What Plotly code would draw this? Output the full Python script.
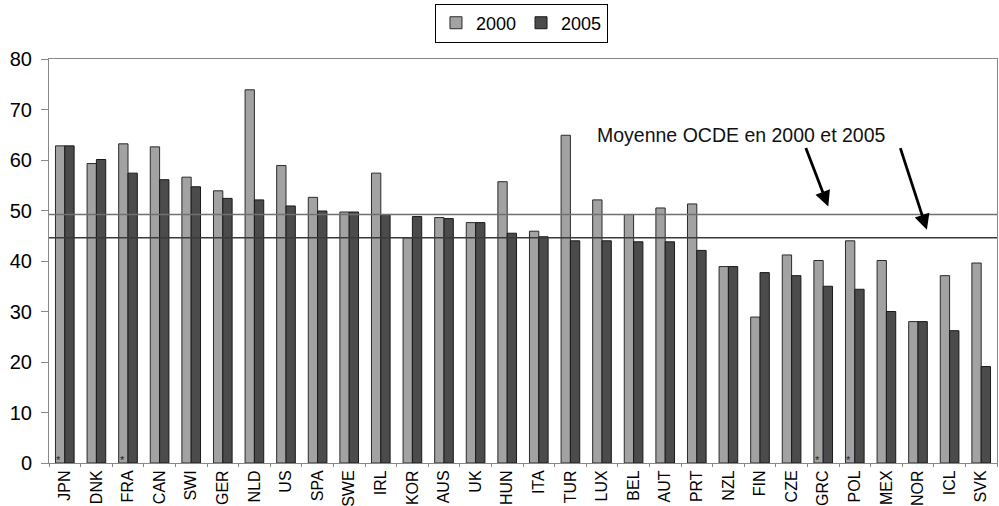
import plotly.graph_objects as go

countries = ["JPN", "DNK", "FRA", "CAN", "SWI", "GER", "NLD", "US", "SPA", "SWE",
             "IRL", "KOR", "AUS", "UK", "HUN", "ITA", "TUR", "LUX", "BEL", "AUT",
             "PRT", "NZL", "FIN", "CZE", "GRC", "POL", "MEX", "NOR", "ICL", "SVK"]
values_2000 = [62.8, 59.3, 63.2, 62.6, 56.6, 53.9, 73.9, 58.9, 52.6, 49.7,
               57.4, 44.6, 48.6, 47.6, 55.7, 45.9, 64.9, 52.1, 49.2, 50.5,
               51.3, 38.9, 28.9, 41.2, 40.1, 44.0, 40.1, 28.0, 37.1, 39.6]
values_2005 = [62.8, 60.1, 57.4, 56.1, 54.7, 52.4, 52.1, 50.9, 49.9, 49.7,
               49.2, 48.8, 48.4, 47.6, 45.5, 44.8, 44.0, 44.0, 43.8, 43.8,
               42.1, 38.9, 37.7, 37.1, 35.0, 34.4, 30.0, 28.0, 26.2, 19.1]
starred = ["JPN", "FRA", "GRC", "POL"]
oecd_mean_2000 = 49.2
oecd_mean_2005 = 44.6
y_ticks = [0, 10, 20, 30, 40, 50, 60, 70, 80]

FONT = "Arial, Liberation Sans, sans-serif"

fig = go.Figure()
fig.add_trace(go.Bar(name="2000", x=countries, y=values_2000,
                     marker=dict(color="#a2a2a2", line=dict(color="#2a2a2a", width=1))))
fig.add_trace(go.Bar(name="2005", x=countries, y=values_2005,
                     marker=dict(color="#4b4b4b", line=dict(color="#1a1a1a", width=1))))

# OECD average lines
fig.add_hline(y=oecd_mean_2000, line=dict(color="#707070", width=1.5), layer="above")
fig.add_hline(y=oecd_mean_2005, line=dict(color="#3a3a3a", width=1.5), layer="above")

annotations = [
    dict(text="Moyenne OCDE en 2000 et 2005", xref="paper", yref="y",
         x=0.576, y=65.0, xanchor="left", yanchor="middle", showarrow=False,
         font=dict(family=FONT, size=19.5, color="#111111")),
    dict(text="", xref="paper", yref="y", x=0.822, y=50.8,
         ax=-23, ay=-60, showarrow=True, arrowhead=2, arrowsize=1.1,
         arrowwidth=2.8, arrowcolor="#000000"),
    dict(text="", xref="paper", yref="y", x=0.926, y=46.2,
         ax=-27, ay=-83, showarrow=True, arrowhead=2, arrowsize=1.1,
         arrowwidth=2.8, arrowcolor="#000000"),
]
for c in starred:
    annotations.append(dict(text="*", xref="x", yref="y", x=c, y=0,
                            xshift=-6, yshift=3, yanchor="middle",
                            showarrow=False,
                            font=dict(family=FONT, size=11, color="#222222")))

fig.update_layout(
    width=999, height=506,
    margin=dict(l=49, r=2, t=59, b=43, autoexpand=False),
    paper_bgcolor="white", plot_bgcolor="white",
    font=dict(family=FONT, size=19, color="#000000"),
    barmode="group", bargap=0.41, bargroupgap=0,
    showlegend=True,
    legend=dict(orientation="h", x=0.522, xref="container", xanchor="center",
                y=0.993, yref="container", yanchor="top",
                bordercolor="#000000", borderwidth=1,
                font=dict(family=FONT, size=18), traceorder="normal",
                tracegroupgap=0, itemwidth=30),
    annotations=annotations,
)
fig.update_xaxes(type="category", tickangle=-90, showline=True, linecolor="#888888",
                 mirror=True, ticks="outside", tickson="boundaries", ticklen=3,
                 tickcolor="#888888", showgrid=False, automargin=False,
                 ticklabelstandoff=0,
                 tickfont=dict(family=FONT, size=16))
fig.update_yaxes(range=[0, 80], tickvals=y_ticks, showline=True, linecolor="#888888",
                 mirror=True, ticks="outside", ticklen=7, tickcolor="#888888",
                 showgrid=False, zeroline=False, automargin=False,
                 ticklabelstandoff=5,
                 tickfont=dict(family=FONT, size=20))

fig.write_html("out.html")
